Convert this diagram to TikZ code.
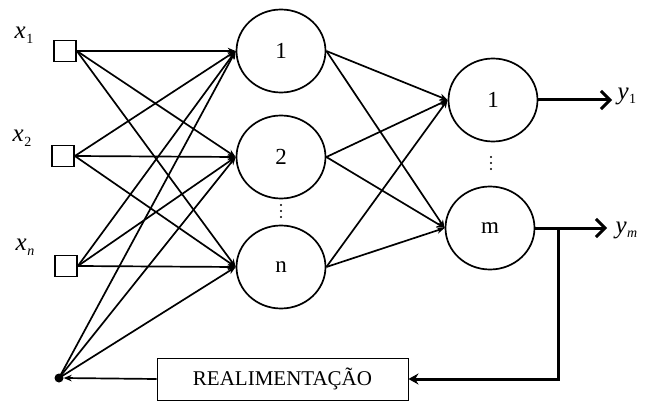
\documentclass[tikz,border=0pt]{standalone}
\usepackage{fontspec}
\setmainfont{Liberation Serif}
\usetikzlibrary{shapes.geometric,arrows.meta}
% italic variable with a lowered subscript
\newcommand{\varsub}[2]{\textit{#1}\kern0.5pt\raisebox{-0.4ex}{\fontsize{14}{14}\selectfont #2}}
\begin{document}
\begin{tikzpicture}[x=1pt,y=-1pt,
  neuron/.style={ellipse,draw,line width=1.7pt,minimum width=89pt,minimum height=83pt,inner sep=0pt,font=\fontsize{23}{23}\selectfont},
  inbox/.style={rectangle,draw,line width=1.7pt,minimum width=22pt,minimum height=21pt,inner sep=0pt},
  wire/.style={line width=1.7pt,-{Stealth[length=8pt,width=6.5pt]}},
  outwire/.style={line width=3pt,-{Straight Barb[length=9pt,width=18pt,line width=3pt]}},
  lbl/.style={font=\fontsize{25}{25}\selectfont},
  dot/.style={circle,fill,inner sep=0pt,minimum size=2.4pt}]
\useasboundingbox (0,0) rectangle (648,401);

% input units
\node[inbox] (x1) at (65,51) {};
\node[inbox] (x2) at (63,156) {};
\node[inbox] (xn) at (66,266) {};
\node[lbl] (lx1) at (24,35) {\varsub{x}{1}};
\node[lbl] (lx2) at (22,138) {\varsub{x}{2}};
\node[lbl] (lxn) at (25,247) {\varsub{x}{\textit{n}}};
\node[circle,fill,inner sep=0pt,minimum size=9pt] (bias) at (59,378) {};

% hidden layer
\node[neuron] (h1) at (281,51) {1};
\node[neuron] (h2) at (281,157) {2};
\node[neuron] (hn) at (281,267) {n};
\foreach \y in {205,211,217} \node[dot] at (281,\y) {};

% output layer
\node[neuron] (o1) at (493,100) {1};
\node[neuron] (om) at (490,228) {m};
\foreach \y in {157,163,169} \node[dot] at (491,\y) {};

% input -> hidden connections
\foreach \s in {x1,x2,xn}
  \foreach \t in {h1,h2,hn}
    \draw[wire] (\s.east) -- (\t.west);
\foreach \t in {h1,h2,hn}
  \draw[wire] (bias.center) -- (\t.west);

% hidden -> output connections
\foreach \s in {h1,h2,hn}
  \foreach \t in {o1,om}
    \draw[wire] (\s.east) -- (\t.west);

% outputs
\coordinate (ey1) at (612,100);
\coordinate (eym) at (607,228);
\node[lbl,anchor=west] (ly1) at (614,96) {\varsub{y}{1}};
\node[lbl,anchor=west] (lym) at (612,230) {\varsub{y}{\textit{m}}};
\draw[outwire] (o1.east) -- (ey1);
\draw[outwire] (om.east) -- (eym);

% feedback loop
\node[draw,line width=0.9pt,minimum width=251pt,minimum height=42pt,inner sep=0pt,
      font=\fontsize{21}{21}\selectfont] (fb) at (282.5,379) {REALIMENTAÇÃO};
\coordinate (tap) at (558,228);
\coordinate (corner) at (558,379);
\draw[line width=3pt,-{Stealth[length=10pt,width=11pt]}] (tap) -- (corner) -- (fb.east);
\draw[line width=1.7pt,-{Stealth[length=8pt,width=6.5pt]}] (fb.west) -- (bias.east);
\end{tikzpicture}
\end{document}
